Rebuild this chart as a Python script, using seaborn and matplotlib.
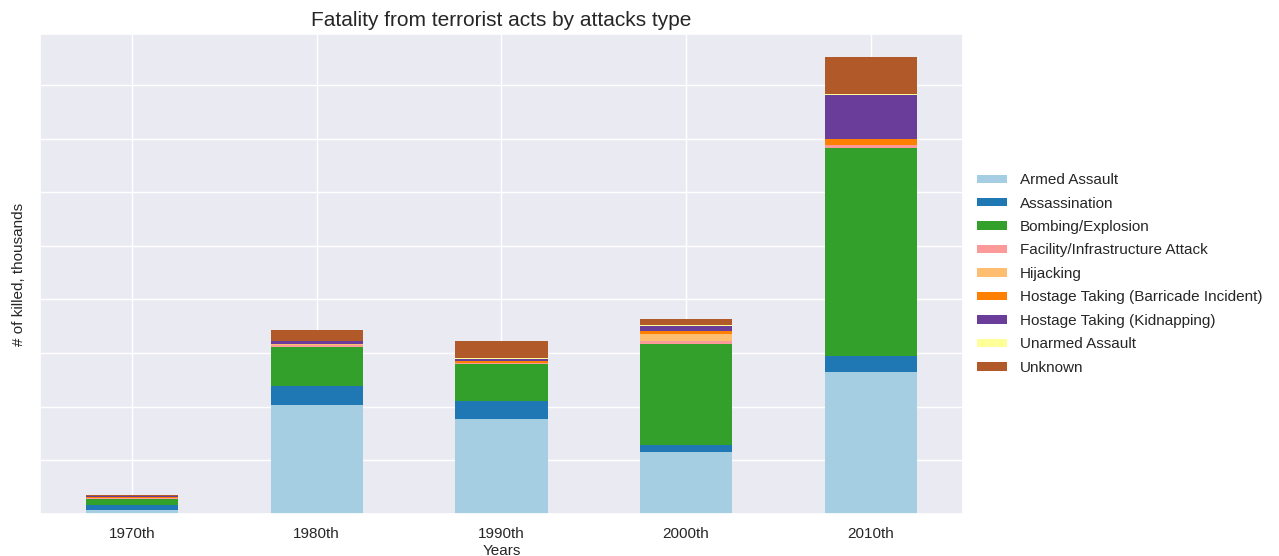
import numpy as np
import pandas as pd
import matplotlib
matplotlib.use("Agg")
import matplotlib.pyplot as plt
from matplotlib.patches import Patch
import seaborn as sns

decades = ["1970th", "1980th", "1990th", "2000th", "2010th"]
attack_types = [
    "Armed Assault",
    "Assassination",
    "Bombing/Explosion",
    "Facility/Infrastructure Attack",
    "Hijacking",
    "Hostage Taking (Barricade Incident)",
    "Hostage Taking (Kidnapping)",
    "Unarmed Assault",
    "Unknown",
]
# fatalities, thousands
armed_assault = [1.6, 40.8, 35.6, 23.3, 52.8]
assassination = [1.9, 6.9, 6.7, 2.5, 6.0]
bombing = [2.1, 14.5, 13.6, 37.6, 77.6]
facility = [0.45, 0.8, 0.3, 1.2, 1.2]
hijacking = [0.1, 0.3, 0.1, 2.7, 0.1]
hostage_barricade = [0.1, 0.2, 0.6, 1.1, 2.2]
hostage_kidnapping = [0.35, 0.9, 1.0, 1.7, 16.2]
unarmed_assault = [0.03, 0.05, 0.3, 0.3, 0.5]
unknown = [0.55, 4.1, 6.5, 2.5, 13.9]

series = [armed_assault, assassination, bombing, facility, hijacking,
          hostage_barricade, hostage_kidnapping, unarmed_assault, unknown]
colors = ["#a6cee3", "#1f78b4", "#33a02c", "#fb9a99", "#fdbf6f",
          "#ff7f00", "#6a3d9a", "#ffff99", "#b15928"]

sns.set_theme(style="darkgrid")
plt.rcParams["font.family"] = ["Liberation Sans", "DejaVu Sans"]

fig = plt.figure(figsize=(12.79, 5.56), dpi=100)
ax = fig.add_axes([0.031, 0.0755, 0.722, 0.8635])

df = pd.DataFrame(np.array(series).T, columns=attack_types)
df.insert(0, "decade", decades)
cum = df[attack_types].cumsum(axis=1)

# draw from the top of the stack downward so lower segments overlay upper totals
for name, col in reversed(list(zip(attack_types, colors))):
    sns.barplot(x=df["decade"], y=cum[name], color=col, width=0.5,
                saturation=1, errorbar=None, ax=ax, zorder=2, linewidth=0)

ax.set_xlim(-0.5, 4.5)
ax.set_yticks(np.arange(0, 180, 20))
ax.set_yticklabels([])
ax.xaxis.grid(True)
ax.yaxis.grid(True)
ax.set_axisbelow(True)
ax.tick_params(axis="x", labelsize=11)
ax.set_xlabel("Years", fontsize=11, labelpad=2)
ax.set_ylabel("# of killed, thousands", fontsize=11, labelpad=0)
ax.set_title("Fatality from terrorist acts by attacks type", fontsize=15)

handles = [Patch(facecolor=c, label=n, linewidth=0) for n, c in zip(attack_types, colors)]
ax.legend(handles=handles, loc="center left", bbox_to_anchor=(1.0, 0.5),
          frameon=False, fontsize=11, handleheight=0.45, labelspacing=0.62)

fig.savefig("out.png", dpi=100)
